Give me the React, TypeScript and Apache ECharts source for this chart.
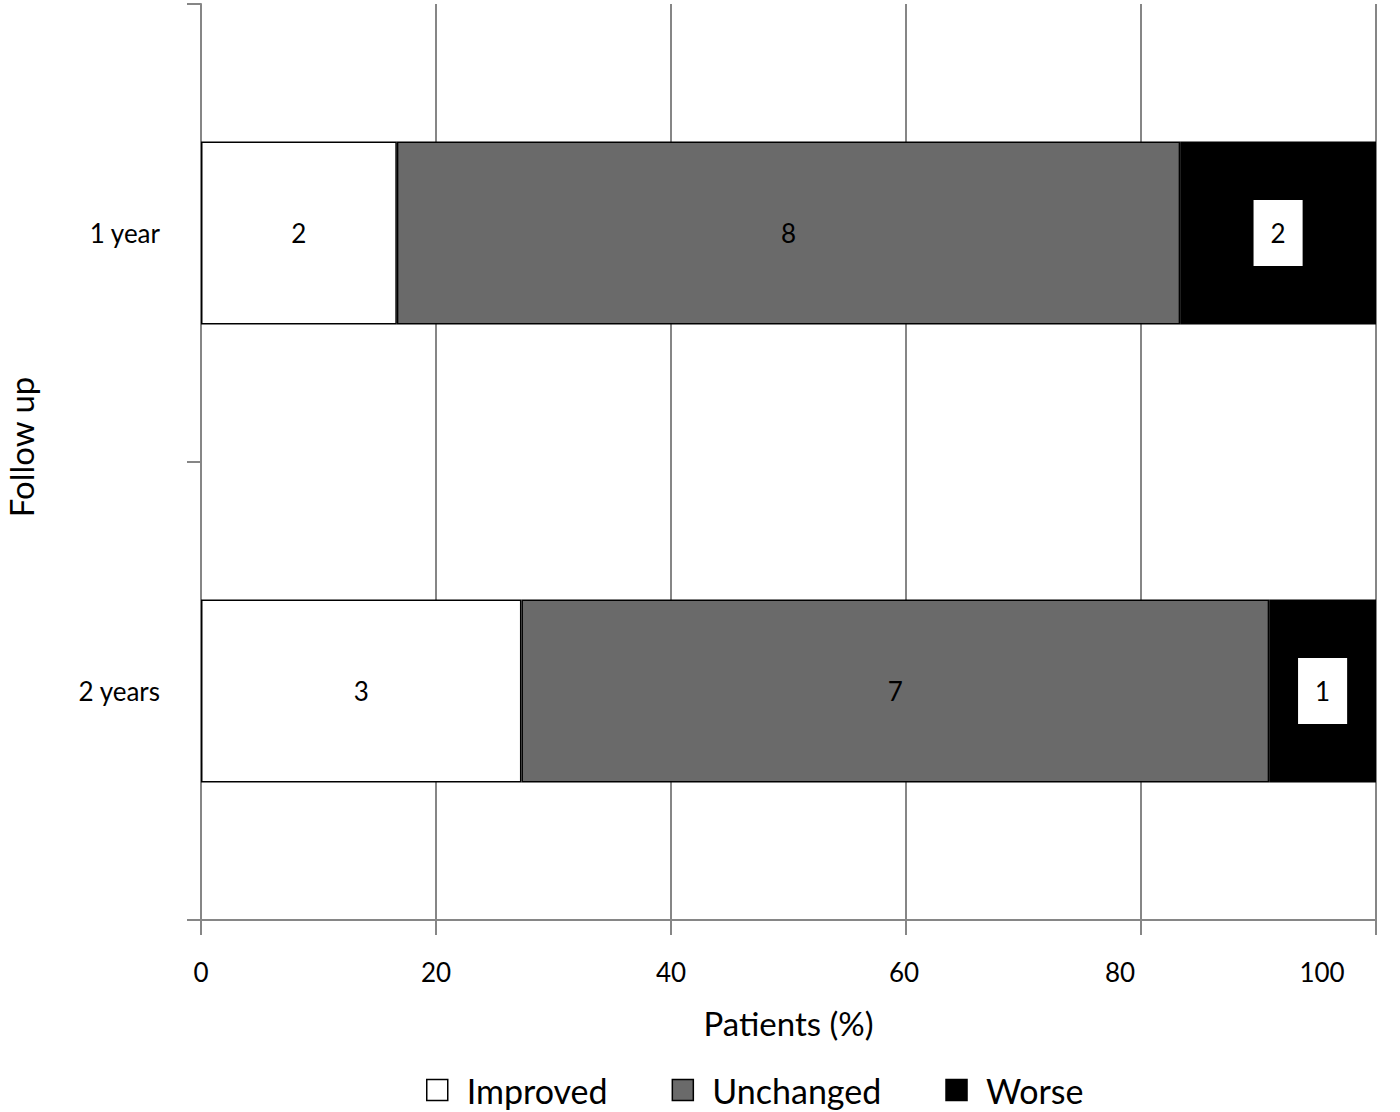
import React, { useEffect, useRef } from "react";
import * as echarts from "echarts";

const categories = ["1 year", "2 years"];
const seriesNames = ["Improved", "Unchanged", "Worse"];
const improvedCounts = [2, 3];
const unchangedCounts = [8, 7];
const worseCounts = [2, 1];
const xTicks = [0, 20, 40, 60, 80, 100];

const FONT = "Lato, 'Open Sans', sans-serif";

export default function App() {
  const ref = useRef<HTMLDivElement>(null);
  useEffect(() => {
    if (!ref.current) return;
    const chart = echarts.init(ref.current, null, { renderer: "svg" });
    const totals = categories.map(
      (_, i) => improvedCounts[i] + unchangedCounts[i] + worseCounts[i]
    );
    const countsList = [improvedCounts, unchangedCounts, worseCounts];
    const colors = ["#ffffff", "#6a6a6a", "#000000"];
    const series = countsList.map((counts, s) => ({
      name: seriesNames[s],
      type: "bar",
      stack: "total",
      barWidth: "40%",
      data: counts.map((c, i) => (c / totals[i]) * 100),
      itemStyle: {
        color: colors[s],
        borderColor: "#000",
        borderWidth: 1.5,
      },
      label: {
        show: true,
        position: "inside",
        formatter: (p: any) => String(counts[p.dataIndex]),
        color: "#000",
        fontSize: 26,
        fontFamily: FONT,
        ...(s === 2
          ? { backgroundColor: "#fff", padding: [20, 17, 20, 17] }
          : {}),
      },
    }));
    const axisGray = "#868686";
    // Excel pulls the last tick labels leftwards; reproduce via right padding
    const labelShift: Record<string, number> = { 0: 0, 20: 0, 40: 0, 60: 4, 80: 42, 100: 108 };
    const rich: Record<string, any> = {};
    xTicks.forEach((t) => {
      rich["t" + t] = {
        fontSize: 26,
        color: "#000",
        fontFamily: FONT,
        padding: [0, labelShift[t] || 0, 0, 0],
      };
    });
    chart.setOption({
      animation: false,
      textStyle: { fontFamily: FONT },
      grid: {
        left: 201,
        right: 24,
        top: 4,
        bottom: 192,
        containLabel: false,
        outerBoundsMode: "none",
      },
      xAxis: {
        type: "value",
        min: xTicks[0],
        max: xTicks[xTicks.length - 1],
        interval: 20,
        name: "Patients (%)",
        nameLocation: "middle",
        nameGap: 86,
        nameTextStyle: { fontSize: 33, color: "#000", fontFamily: FONT },
        axisLine: { show: true, lineStyle: { color: axisGray, width: 2 } },
        axisTick: { show: true, length: 15, lineStyle: { color: axisGray, width: 2 } },
        axisLabel: {
          fontSize: 26,
          color: "#000",
          margin: 39,
          fontFamily: FONT,
          formatter: (v: number) => `{t${v}|${v}}`,
          rich,
        },
        splitLine: { show: true, lineStyle: { color: axisGray, width: 2 } },
      },
      yAxis: {
        type: "category",
        inverse: true,
        data: categories,
        name: "Follow up",
        nameLocation: "middle",
        nameGap: 164,
        nameRotate: 90,
        nameTextStyle: {
          fontSize: 33,
          color: "#000",
          fontFamily: FONT,
          padding: [0, 0, 0, 30],
        },
        axisLine: { show: true, lineStyle: { color: axisGray, width: 2 } },
        axisTick: { show: true, length: 14, lineStyle: { color: axisGray, width: 2 } },
        axisLabel: { fontSize: 26, color: "#000", margin: 41, fontFamily: FONT },
        splitLine: { show: false },
      },
      legend: {
        bottom: 0,
        left: 421,
        itemWidth: 21,
        itemHeight: 21,
        itemGap: 64,
        icon: "rect",
        textStyle: {
          fontSize: 34,
          color: "#000",
          fontFamily: FONT,
          padding: [0, 0, 0, 14],
        },
        data: seriesNames.map((n, i) => ({
          name: n,
          itemStyle: { color: colors[i], borderColor: "#000", borderWidth: 1.5 },
          textStyle: {
            fontSize: 34,
            color: "#000",
            fontFamily: FONT,
            padding: [0, n === "Unchanged" ? 10 : 0, 0, 14],
          },
        })),
      },
      series,
    });
    return () => chart.dispose();
  }, []);
  return (
    <div
      ref={ref}
      style={{ position: "fixed", left: 0, top: 0, width: 1400, height: 1112, background: "#fff" }}
    />
  );
}
